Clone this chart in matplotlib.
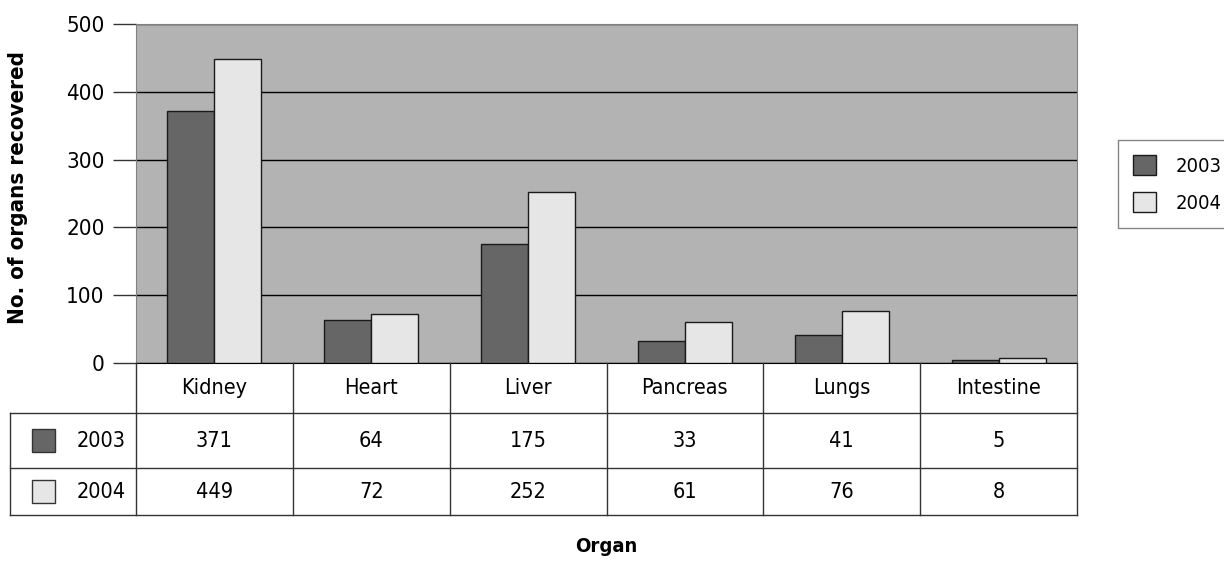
import matplotlib
matplotlib.use("Agg")
import matplotlib.pyplot as plt
import numpy as np
from matplotlib.patches import Rectangle

plt.rcParams['font.family'] = ['DejaVu Sans']
plt.rcParams['font.stretch'] = 'condensed'

organs = ["Kidney", "Heart", "Liver", "Pancreas", "Lungs", "Intestine"]
years = ["2003", "2004"]
vals_2003 = [371, 64, 175, 33, 41, 5]
vals_2004 = [449, 72, 252, 61, 76, 8]
colors = ["#666666", "#e6e6e6"]
yticks = [0, 100, 200, 300, 400, 500]

W, H = 1224, 561
fig = plt.figure(figsize=(W / 100, H / 100), dpi=100)

# plot area in pixels
px0, px1, py0, py1 = 136, 1077, 24, 363
ax = fig.add_axes([px0 / W, 1 - py1 / H, (px1 - px0) / W, (py1 - py0) / H])
ax.set_facecolor("#b3b3b3")

x = np.arange(len(organs))
bw = 0.3
series = [vals_2003, vals_2004]
for i, (yr, vals) in enumerate(zip(years, series)):
    ax.bar(x + (i - 0.5) * bw, vals, bw, color=colors[i], edgecolor="#1a1a1a",
           linewidth=1, label=yr, zorder=3)

ax.set_xlim(-0.5, len(organs) - 0.5)
ax.set_ylim(0, 500)
ax.set_yticks(yticks)
ax.yaxis.grid(True, color="black", linewidth=1, zorder=1)
ax.set_axisbelow(True)
ax.tick_params(axis="y", length=16.5, width=1, color="#333333", pad=6, labelsize=16)
ax.set_xticks([])
for s in ["left", "top", "right"]:
    ax.spines[s].set_color("#808080")
ax.spines["bottom"].set_color("black")

# pixel overlay for table and labels
tab = fig.add_axes([0, 0, 1, 1], facecolor="none")
tab.set_xlim(0, W)
tab.set_ylim(H, 0)
tab.axis("off")

tab.text(18, 188, "No. of organs recovered", rotation=90, ha="center", va="center",
         fontsize=16, fontweight="bold")

colw = (px1 - px0) / len(organs)
lx = 10
row_y = [363, 413, 468, 515]
lc = "#333333"
lw = 1
for yy in row_y[1:]:
    tab.plot([lx, px1], [yy, yy], color=lc, lw=lw)
for j in range(len(organs) + 1):
    xx = px0 + j * colw
    tab.plot([xx, xx], [row_y[0], row_y[3]], color=lc, lw=lw)
tab.plot([lx, lx], [row_y[1], row_y[3]], color=lc, lw=lw)

for j, name in enumerate(organs):
    cx = px0 + (j + 0.5) * colw
    tab.text(cx, (row_y[0] + row_y[1]) / 2, name, ha="center", va="center", fontsize=15.5)
    for r, vals in enumerate(series):
        cy = (row_y[r + 1] + row_y[r + 2]) / 2
        tab.text(cx, cy, str(vals[j]), ha="center", va="center", fontsize=15.5)

for r, yr in enumerate(years):
    cy = (row_y[r + 1] + row_y[r + 2]) / 2
    tab.add_patch(Rectangle((32, cy - 11.5), 23, 23, facecolor=colors[r],
                            edgecolor="#333333", lw=1))
    tab.text(126, cy, yr, ha="right", va="center", fontsize=15.5)

tab.text((px0 + px1) / 2, 546, "Organ", ha="center", va="center",
         fontsize=14.5, fontweight="bold")

leg = fig.legend(loc="upper left", bbox_to_anchor=(1118 / W, 1 - 140 / H),
                 fontsize=14.5, frameon=True, fancybox=False, edgecolor="#666666",
                 handlelength=1.15, handleheight=1.15, borderpad=0.75,
                 labelspacing=0.8, handletextpad=0.95, borderaxespad=0)
leg.get_frame().set_linewidth(1)

fig.savefig("out.png", dpi=100)
